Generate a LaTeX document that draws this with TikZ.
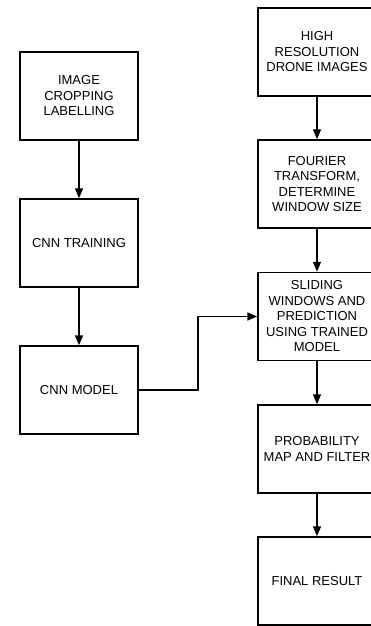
\documentclass[tikz,border=0pt]{standalone}
\usepackage{fontspec}
\setmainfont{Liberation Sans}
\usetikzlibrary{calc,arrows.meta}

\begin{document}
\begin{tikzpicture}[x=1pt,y=-1pt,
	stagebox/.style={draw,line width=1.5pt,minimum width=118pt,minimum height=88pt,
		inner sep=0pt,align=center,font=\fontsize{13}{15.5}\selectfont},
	flow/.style={line width=1.5pt,-{Triangle[length=10pt,width=8pt]}}]
		\useasboundingbox (0,0) rectangle (370,626);
		\def\xl{79}
		\def\xr{317}
		% training branch
		\node[stagebox] (crop) at (\xl,96) {IMAGE\\CROPPING\\LABELLING};
		\node[stagebox] (train) at (\xl,243) {CNN TRAINING};
		\node[stagebox] (model) at (\xl,390) {CNN MODEL};
		% detection branch
		\node[stagebox] (drone) at (\xr,52) {HIGH\\RESOLUTION\\DRONE IMAGES};
		\node[stagebox] (fourier) at (\xr,184) {FOURIER\\TRANSFORM,\\DETERMINE\\WINDOW SIZE};
		\node[stagebox] (slide) at (\xr,316.5) {SLIDING\\WINDOWS AND\\PREDICTION\\USING TRAINED\\MODEL};
		\node[stagebox] (prob) at (\xr,449) {PROBABILITY\\MAP AND FILTER};
		\node[stagebox] (final) at (\xr,581) {FINAL RESULT};
		
		\draw[flow] (crop) -- (train);
		\draw[flow] (train) -- (model);
		\draw[flow] (drone) -- (fourier);
		\draw[flow] (fourier) -- (slide);
		\draw[flow] (slide) -- (prob);
		\draw[flow] (prob) -- (final);
		\coordinate (bend) at (198,390);
		\draw[flow] (model.east) -- (bend) |- (slide.west);
\end{tikzpicture}
\end{document}
